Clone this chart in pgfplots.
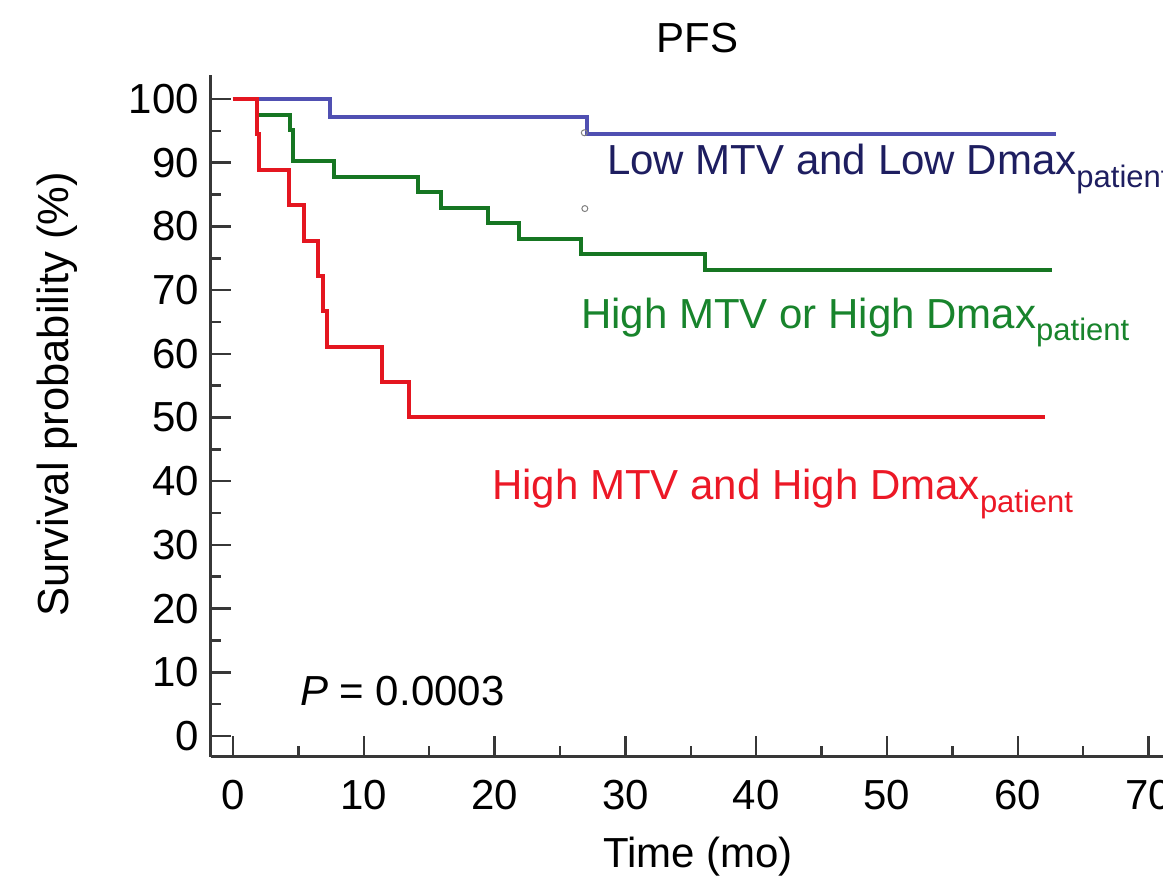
\documentclass[border=0pt]{standalone}
\usepackage{fontspec}
\setmainfont{Liberation Sans}
\usepackage{pgfplots}
\pgfplotsset{compat=1.18}
\definecolor{axgray}{RGB}{55,55,55}
\definecolor{bluel}{RGB}{80,80,178}
\definecolor{bluet}{RGB}{30,30,96}
\definecolor{greenl}{RGB}{22,118,34}
\definecolor{greent}{RGB}{24,132,44}
\definecolor{redl}{RGB}{228,22,32}
\definecolor{redt}{RGB}{236,24,38}
\newcommand\fs{\fontsize{42bp}{50bp}\selectfont}
\newcommand\sub[1]{\raisebox{-12.5bp}{\fontsize{31bp}{36bp}\selectfont #1}}
\begin{document}
\begin{tikzpicture}
\begin{axis}[
  at={(0,0)}, anchor=south west,
  scale only axis, width=970.3bp, height=681.5bp,
  xmin=-1.68, xmax=72.5, ymin=-3.22, ymax=103.77,
  axis x line*=bottom, axis y line*=left,
  axis line style={line width=3bp, color=axgray},
  tick align=inside,
  xtick={0,10,...,70}, ytick={0,10,...,100},
  minor x tick num=1, minor y tick num=1,
  major tick length=20bp, minor tick length=10bp,
  every tick/.style={line width=2.5bp, color=axgray},
  /pgf/number format/assume math mode=true,
  tick label style={font=\fs, text=black},
  xticklabel style={anchor=north, inner sep=0pt, yshift=-23.5bp},
  yticklabel style={anchor=east, inner sep=0pt, xshift=-12bp},
  clip=false,
]
% Low MTV and Low Dmax
\addplot[const plot, line width=4bp, color=bluel] coordinates {
  (0,100) (7.42,97.22) (27.04,94.44) (62.9,94.44)};
% High MTV or High Dmax
\addplot[const plot, line width=4bp, color=greenl] coordinates {
  (0,100) (1.81,97.56) (4.36,95.12) (4.6,90.24) (7.72,87.80) (14.17,85.37)
  (15.9,82.93) (19.5,80.49) (21.9,78.05) (26.6,75.61) (36.1,73.17) (62.6,73.17)};
% High MTV and High Dmax
\addplot[const plot, line width=4bp, color=redl] coordinates {
  (0,100) (1.81,94.44) (2.0,88.89) (4.31,83.33) (5.43,77.78) (6.52,72.22)
  (6.9,66.67) (7.16,61.11) (11.4,55.56) (13.43,50) (62.1,50)};
% censor marks
\addplot[only marks, mark=o, mark size=3bp, color=gray, line width=1bp] coordinates {
  (26.86,94.7) (26.9,82.8)};

\node[anchor=base, font=\fs, inner sep=0pt] at (axis cs:35.5,107.27) {PFS};
\node[anchor=base, font=\fs, inner sep=0pt] at (axis cs:35.55,-20.72) {Time (mo)};
\node[anchor=base, rotate=90, font=\fontsize{43.5bp}{50bp}\selectfont, inner sep=0pt] at (axis cs:-12.58,53.6) {Survival probability (\%)};
\node[anchor=base west, font=\fs, text=bluet, inner sep=0pt] at (axis cs:28.6,88.07) {Low MTV and Low Dmax\sub{patient}};
\node[anchor=base west, font=\fs, text=greent, inner sep=0pt] at (axis cs:26.6,64.05) {High MTV or High Dmax\sub{patient}};
\node[anchor=base west, font=\fs, text=redt, inner sep=0pt] at (axis cs:19.8,37.05) {High MTV and High Dmax\sub{patient}};
\node[anchor=base west, font=\fs, inner sep=0pt] at (axis cs:5.12,4.71) {{\itshape P} = 0.0003};
\end{axis}
\pgfresetboundingbox
\useasboundingbox (-211bp,-122.5bp) rectangle (952bp,756.5bp);
\end{tikzpicture}
\end{document}
